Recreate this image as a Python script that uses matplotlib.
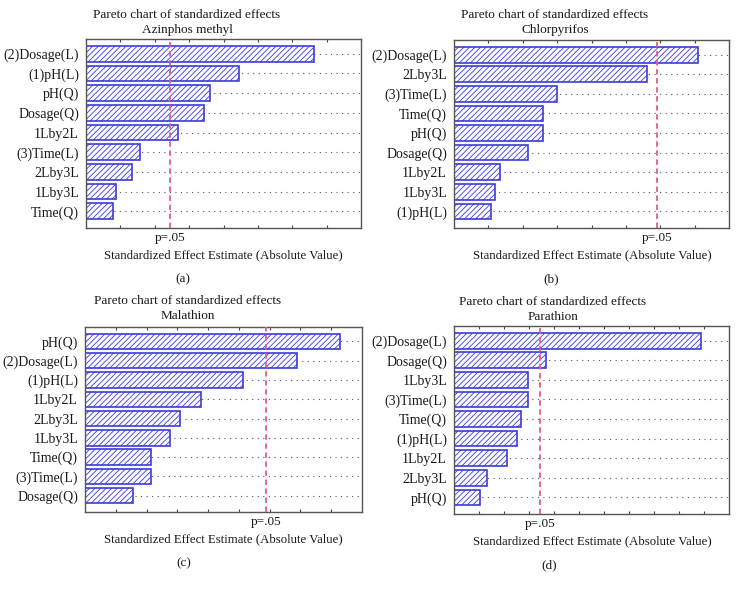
import numpy as np
import matplotlib
matplotlib.use("Agg")
import matplotlib.pyplot as plt

plt.rcParams['font.family'] = ['Liberation Serif', 'DejaVu Serif']
plt.rcParams['hatch.linewidth'] = 0.6

# effect estimates (axis units = unlabeled tick steps)
azinphos_terms = ["(2)Dosage(L)", "(1)pH(L)", "pH(Q)", "Dosage(Q)", "1Lby2L",
                  "(3)Time(L)", "2Lby3L", "1Lby3L", "Time(Q)"]
azinphos_vals = [6.62, 4.44, 3.60, 3.42, 2.69, 1.58, 1.35, 0.87, 0.79]
azinphos_p = 2.45
azinphos_max = 8

chlor_terms = ["(2)Dosage(L)", "2Lby3L", "(3)Time(L)", "Time(Q)", "pH(Q)",
               "Dosage(Q)", "1Lby2L", "1Lby3L", "(1)pH(L)"]
chlor_vals = [7.09, 5.60, 3.00, 2.58, 2.58, 2.15, 1.33, 1.19, 1.07]
chlor_p = 5.90
chlor_max = 8

mala_terms = ["pH(Q)", "(2)Dosage(L)", "(1)pH(L)", "1Lby2L", "2Lby3L",
              "1Lby3L", "Time(Q)", "(3)Time(L)", "Dosage(Q)"]
mala_vals = [8.28, 6.88, 5.14, 3.76, 3.10, 2.75, 2.15, 2.15, 1.57]
mala_p = 5.88
mala_max = 9

para_terms = ["(2)Dosage(L)", "Dosage(Q)", "1Lby3L", "(3)Time(L)", "Time(Q)",
              "(1)pH(L)", "1Lby2L", "2Lby3L", "pH(Q)"]
para_vals = [9.88, 3.69, 2.97, 2.96, 2.69, 2.53, 2.13, 1.33, 1.05]
para_p = 3.45
para_max = 11

W, H = 739, 593
fig = plt.figure(figsize=(W / 100, H / 100), dpi=100)


def px_axes(left, top, right, bottom):
    return fig.add_axes([left / W, 1 - bottom / H, (right - left) / W, (bottom - top) / H])


def px_text(x, y, s, size=9.5):
    fig.text(x / W, 1 - y / H, s, ha="center", va="center", fontsize=size, color="#1a1a1a")


def pareto(box, terms, vals, pcrit, xmax, name, tag, title_x, label_x, y0):
    ax = px_axes(*box)
    pos = np.arange(len(terms))
    ax.grid(axis="y", linestyle=(0, (1, 4)), color="#555555", linewidth=0.8, zorder=0)
    ax.barh(pos, vals, height=0.8, facecolor="#fbfbff", edgecolor="#3c3cd6",
            hatch="//////", linewidth=1.2, zorder=2)
    ax.axvline(pcrit, color="#e0607a", linestyle=(0, (3, 2)), linewidth=1.3, zorder=3)
    ax.set_xlim(0, xmax)
    ax.set_ylim(len(terms) - 0.15, -0.75)
    ax.set_yticks(pos)
    ax.set_yticklabels(terms, fontsize=10, color="#1a1a1a")
    ax.set_xticks(np.arange(1, xmax))
    ax.set_xticklabels([])
    ax.tick_params(axis="x", direction="in", length=2.5, top=True, color="#444444")
    ax.tick_params(axis="y", direction="in", length=2.5, color="#444444", pad=5)
    for sp in ax.spines.values():
        sp.set_color("#555555")
        sp.set_linewidth(1.0)
    l, r = box[0], box[2]
    x_p = l + (r - l) * pcrit / xmax
    px_text(title_x, y0, "Pareto chart of standardized effects")
    px_text(title_x, y0 + 15, name)
    px_text(x_p, box[3] + 10, "p=.05")
    px_text(label_x, box[3] + 27, "Standardized Effect Estimate (Absolute Value)", 9.2)
    px_text(title_x - 4, box[3] + 51, tag)


pareto((86, 39, 361, 228), azinphos_terms, azinphos_vals, azinphos_p, azinphos_max,
       "Azinphos methyl", "(a)", 187, 223, 15)
pareto((454, 40, 729, 228), chlor_terms, chlor_vals, chlor_p, chlor_max,
       "Chlorpyrifos", "(b)", 555, 592, 15)
pareto((85, 327, 362, 512), mala_terms, mala_vals, mala_p, mala_max,
       "Malathion", "(c)", 188, 223, 301)
pareto((454, 326, 729, 514), para_terms, para_vals, para_p, para_max,
       "Parathion", "(d)", 553, 592, 302)

fig.savefig("out.png", dpi=100)
